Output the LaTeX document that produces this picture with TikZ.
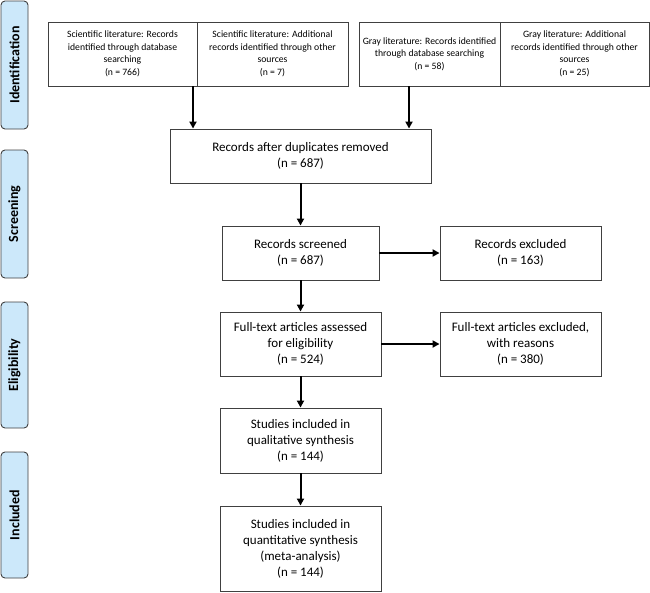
\documentclass[tikz,border=0pt]{standalone}
\usepackage{fontspec}
\setmainfont{Carlito}
\usetikzlibrary{arrows.meta}
\definecolor{phasefill}{RGB}{204,232,250}
\definecolor{edge}{RGB}{64,64,64}
\tikzset{
  box/.style={draw=edge, line width=0.9pt, fill=white, align=center, inner sep=2pt,
    font=\fontsize{13}{16}\selectfont},
  smallbox/.style={box, font=\fontsize{9.7}{12.6}\selectfont},
  phase/.style={draw=edge, line width=0.9pt, fill=phasefill, rounded corners=4pt},
  phaselabel/.style={rotate=90, font=\fontsize{14}{16}\selectfont\bfseries},
  flow/.style={line width=2pt, -{Triangle[width=7pt,length=7pt]}},
}
\begin{document}
\begin{tikzpicture}[x=1pt,y=-1pt]
\useasboundingbox (0,0) rectangle (650,592);
% phase bars
\node[phase, minimum width=27pt, minimum height=128pt] (pid) at (14.5,65) {};
\node[phaselabel] (lid) at (pid.center) {Identification};
\node[phase, minimum width=27pt, minimum height=128pt] (psc) at (14.5,214) {};
\node[phaselabel] (lsc) at (psc.center) {Screening};
\node[phase, minimum width=27pt, minimum height=126pt] (pel) at (14.5,365) {};
\node[phaselabel] (lel) at (pel.center) {Eligibility};
\node[phase, minimum width=27pt, minimum height=126pt] (pin) at (14.5,515) {};
\node[phaselabel] (lin) at (pin.center) {Included};
% top boxes
\node[smallbox, minimum width=149pt, minimum height=64pt] (b1) at (122.5,54)
  {Scientific literature: Records\\identified through database\\searching\\(n = 766)};
\node[smallbox, minimum width=151pt, minimum height=64pt] (b2) at (272.5,54)
  {Scientific literature: Additional\\records identified through other\\sources\\(n = 7)};
\node[smallbox, minimum width=141pt, minimum height=64pt, inner sep=0pt] (b3) at (429.5,54)
  {Gray literature: Records identified\\through database searching\\(n = 58)};
\node[smallbox, minimum width=149pt, minimum height=64pt] (b4) at (574.5,54)
  {Gray literature: Additional\\records identified through other\\sources\\(n = 25)};
% main flow
\node[box, minimum width=261pt, minimum height=54pt] (dup) at (300.5,156)
  {Records after duplicates removed\\(n = 687)};
\node[box, minimum width=157pt, minimum height=54pt] (scr) at (300.5,253)
  {Records screened\\(n = 687)};
\node[box, minimum width=161pt, minimum height=54pt] (exc) at (520.5,253)
  {Records excluded\\(n = 163)};
\node[box, minimum width=161pt, minimum height=64pt] (ft) at (300.5,344)
  {Full-text articles assessed\\for eligibility\\(n = 524)};
\node[box, minimum width=161pt, minimum height=64pt] (fte) at (520.5,344)
  {Full-text articles excluded,\\with reasons\\(n = 380)};
\node[box, minimum width=161pt, minimum height=65pt] (qual) at (300.5,440.5)
  {Studies included in\\qualitative synthesis\\(n = 144)};
\node[box, minimum width=161pt, minimum height=85pt] (quant) at (300.5,548.5)
  {Studies included in\\quantitative synthesis\\(meta-analysis)\\(n = 144)};
% connectors
\coordinate (s1) at (193,86);
\coordinate (s3) at (409,86);
\draw[flow] (s1) -- (s1 |- dup.north);
\draw[flow] (s3) -- (s3 |- dup.north);
\draw[flow] (dup.south) -- (scr.north);
\draw[flow] (scr.east) -- (exc.west);
\draw[flow] (scr.south) -- (ft.north);
\draw[flow] (ft.east) -- (fte.west);
\draw[flow] (ft.south) -- (qual.north);
\draw[flow] (qual.south) -- (quant.north);
\end{tikzpicture}
\end{document}
